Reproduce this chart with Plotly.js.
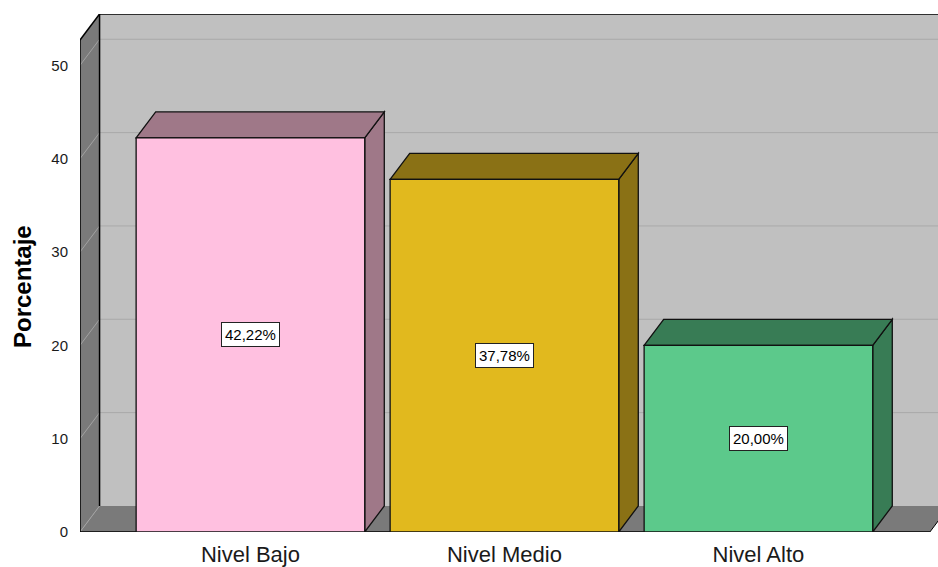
<!DOCTYPE html>
<html>
<head>
<meta charset="utf-8">
<script src="https://cdn.plot.ly/plotly-3.0.1.min.js"></script>
<style>html,body{margin:0;padding:0;background:#fff;}#chart{width:938px;height:567px;}</style>
</head>
<body>
<div id="chart"></div>
<script>
// ---- data ----
const categories = ['Nivel Bajo', 'Nivel Medio', 'Nivel Alto'];
const percentages = [42.22, 37.78, 20.00];
const valueLabels = ['42,22%', '37,78%', '20,00%'];
const frontColors = ['#ffc0e0', '#e1b91e', '#5cc98b'];
const shadeColors = ['#9f7888', '#8a7115', '#387c55'];
const yTickValues = [0, 10, 20, 30, 40, 50];
const yTickLabels = ['0', '10', '20', '30', '40', '50'];
const yTitle = 'Porcentaje';

// ---- 3D style constants ----
const DX = 0.077;     // depth offset in x units
const DY = 2.79;      // depth offset in y units
const XL = -0.671;    // left wall front edge
const XFR = 2.675;    // floor front right end
const XMAX = 2.707;
const YMAX = 55.5;
const BW = 0.9;

const xs = categories.map((c, i) => i);

function poly(pts, fill, line, lw) {
  return {
    type: 'path', xref: 'x', yref: 'y', layer: 'below',
    path: 'M ' + pts.map(p => p[0] + ',' + p[1]).join(' L ') + ' Z',
    fillcolor: fill, line: {color: line || 'rgba(0,0,0,0)', width: lw === undefined ? 1 : lw}
  };
}
function seg(x0, y0, x1, y1, color, w) {
  return {type: 'line', xref: 'x', yref: 'y', layer: 'below', x0, y0, x1, y1,
    line: {color: color, width: w || 1}};
}

const shapes = [];
// back wall
shapes.push(poly([[XL + DX, DY], [XMAX + 0.05, DY], [XMAX + 0.05, YMAX], [XL + DX, YMAX]], '#c0c0c0', null, 0));
// back wall grid lines
yTickValues.slice(1).forEach(v => shapes.push(seg(XL + DX, v + DY, XMAX + 0.05, v + DY, '#a9a9a9', 1)));
// floor
shapes.push(poly([[XL, 0], [XFR, 0], [XFR + DX, DY], [XL + DX, DY]], '#7a7a7a', null, 0));
// left wall
shapes.push(poly([[XL, 0], [XL + DX, DY], [XL + DX, YMAX], [XL, YMAX - DY]], '#7a7a7a', null, 0));
// left wall grid lines
yTickValues.forEach(v => shapes.push(seg(XL, v, XL + DX, v + DY, '#a2a2a2', 1)));
// edges
shapes.push(seg(XL, 0, XL, YMAX - DY, '#000', 1.5));
shapes.push(seg(XL, YMAX - DY, XL + DX, YMAX, '#000', 1.5));
shapes.push(seg(XL + DX, YMAX, XMAX + 0.05, YMAX, '#000', 1.5));
shapes.push(seg(XL + DX, DY, XL + DX, YMAX, '#000', 1.5));
shapes.push(seg(XL, 0, XFR, 0, '#000', 1.5));
shapes.push(seg(XFR, 0, XFR + DX, DY, '#000', 1));

// bar top and side faces
xs.forEach((x, i) => {
  const v = percentages[i];
  const l = x - BW / 2, r = x + BW / 2;
  shapes.push(poly([[r, 0], [r + DX, DY], [r + DX, v + DY], [r, v]], shadeColors[i], '#111', 1.3));
  shapes.push(poly([[l, v], [r, v], [r + DX, v + DY], [l + DX, v + DY]], shadeColors[i], '#111', 1.3));
});

const annotations = xs.map((x, i) => ({
  x: x, y: percentages[i] / 2, xref: 'x', yref: 'y',
  text: valueLabels[i], showarrow: false,
  font: {family: 'Liberation Sans, Arial, sans-serif', size: 15, color: '#000'},
  bgcolor: '#ffffff', bordercolor: '#222', borderwidth: 1, borderpad: 3
}));
// y-axis title, centred on the front axis span (0 .. top of the left wall)
annotations.push({
  xref: 'paper', yref: 'y', x: -0.0676, y: (YMAX - DY) / 2,
  xanchor: 'center', yanchor: 'middle', textangle: -90, showarrow: false,
  text: '<b>' + yTitle + '</b>',
  font: {family: 'Liberation Sans, Arial, sans-serif', size: 24, color: '#000'}
});

const trace = {
  type: 'bar', x: xs, y: percentages, width: BW,
  marker: {color: frontColors, line: {color: '#111', width: 1.3}},
  hoverinfo: 'skip', showlegend: false
};

const layout = {
  width: 938, height: 567,
  margin: {l: 80, r: 0, t: 14, b: 35},
  paper_bgcolor: '#ffffff', plot_bgcolor: 'rgba(0,0,0,0)',
  font: {family: 'Liberation Sans, Arial, sans-serif', color: '#000'},
  xaxis: {
    range: [XL, XMAX], tickmode: 'array', tickvals: xs, ticktext: categories,
    showgrid: false, zeroline: false, showline: false,
    ticks: 'outside', ticklen: 3, tickcolor: 'rgba(0,0,0,0)',
    tickfont: {size: 22, color: '#1a1a1a'}, fixedrange: true
  },
  yaxis: {
    range: [0, YMAX], tickmode: 'array', tickvals: yTickValues, ticktext: yTickLabels,
    showgrid: false, zeroline: false, showline: false,
    ticks: 'outside', ticklen: 8, tickcolor: 'rgba(0,0,0,0)',
    tickfont: {size: 15, color: '#1a1a1a'},
    fixedrange: true
  },
  bargap: 0,
  shapes: shapes,
  annotations: annotations
};

Plotly.newPlot('chart', [trace], layout, {displayModeBar: false, staticPlot: true});
</script>
</body>
</html>
